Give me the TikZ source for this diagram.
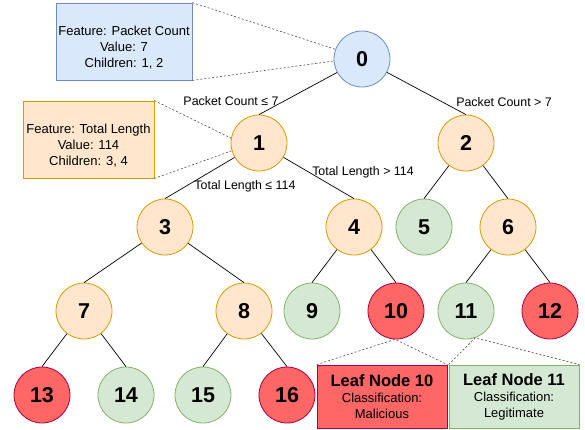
\documentclass[tikz,border=0pt]{standalone}
\usepackage{fontspec}
\setmainfont{Liberation Sans}
\usetikzlibrary{backgrounds}
\definecolor{rootfill}{HTML}{DAE8FC}
\definecolor{rootline}{HTML}{6C8EBF}
\definecolor{splitfill}{HTML}{FFE6CC}
\definecolor{splitline}{HTML}{D79B00}
\definecolor{goodfill}{HTML}{D5E8D4}
\definecolor{goodline}{HTML}{82B366}
\definecolor{badfill}{HTML}{FF6666}
\definecolor{badline}{HTML}{A50040}
\tikzset{
	tnode/.style={circle, draw, line width=0.8pt, minimum size=56pt, inner sep=0pt, font=\fontsize{21.5}{21.5}\selectfont\bfseries},
	root/.style={tnode, fill=rootfill, draw=rootline},
	split/.style={tnode, fill=splitfill, draw=splitline},
	good/.style={tnode, fill=goodfill, draw=goodline},
	bad/.style={tnode, fill=badfill, draw=badline},
	infobox/.style={rectangle, draw, line width=0.8pt, align=center, inner sep=0pt, font=\fontsize{13}{16}\selectfont},
	cond/.style={inner sep=0pt, font=\fontsize{12.4}{14}\selectfont},
	guide/.style={draw=black!70, line width=0.6pt, dash pattern=on 2pt off 2pt},
	branch/.style={draw=black, line width=0.7pt}
}
\begin{document}
\begin{tikzpicture}[x=1pt, y=-1pt]
		\useasboundingbox (0,0) rectangle (585,429);
		
		\node(n0) [root] at (362,59) {0};
		\node(n1) [split] at (259,143) {1};
		\node(n2) [split] at (466,143) {2};
		\node(n3) [split] at (165,227) {3};
		\node(n4) [split] at (354,227) {4};
		\node(n5) [good] at (424,227) {5};
		\node(n6) [split] at (508,227) {6};
		\node(n7) [split] at (84,311) {7};
		\node(n8) [split] at (244,311) {8};
		\node(n9) [good] at (312,311) {9};
		\node(n10) [bad] at (396,311) {10};
		\node(n11) [good] at (466,311) {11};
		\node(n12) [bad] at (550,311) {12};
		\node(n13) [bad] at (42,395) {13};
		\node(n14) [good] at (126,395) {14};
		\node(n15) [good] at (203,395) {15};
		\node(n16) [bad] at (287,395) {16};
		
		\foreach \a/\b in {0/1, 0/2, 1/3, 1/4, 2/5, 2/6, 3/7, 3/8, 4/9, 4/10, 6/11, 6/12, 7/13, 7/14, 8/15, 8/16}
			\draw[branch] (n\a) -- (n\b.north);
		
		\node(c01) [cond] at (231,101) {Packet Count ≤ 7};
		\node(c02) [cond] at (504,102) {Packet Count > 7};
		\node(c13) [cond] at (245,186) {Total Length ≤ 114};
		\node(c14) [cond] at (363,172) {Total Length > 114};
		
		\node(i0) [infobox, fill=rootfill, draw=rootline, minimum width=136pt, minimum height=77pt] at (124,41.5)
			{\rule{0pt}{21.5pt}Feature: Packet Count\\Value: 7\\Children: 1, 2};
		\node(i1) [infobox, fill=splitfill, draw=splitline, minimum width=131pt, minimum height=77pt] at (88.5,139.5)
			{\rule{0pt}{21.5pt}Feature: Total Length\\Value: 114\\Children: 3, 4};
		\node(l10) [infobox, fill=badfill, draw=badline, minimum width=130pt, minimum height=63pt] at (382,396.5)
			{{\fontsize{16.5}{19}\selectfont\bfseries Leaf Node 10}\\Classification:\\Malicious};
		\node(l11) [infobox, fill=goodfill, draw=goodline, minimum width=130pt, minimum height=63pt] at (514,396.5)
			{{\fontsize{16.5}{19}\selectfont\bfseries Leaf Node 11}\\Classification:\\Legitimate};
		
		% dotted call-outs
		\draw[guide] (i0.north east) -- (n0.160);
		\draw[guide] (i0.south east) -- (n0.184);
		\draw[guide] (i1.north east) -- (n1.170);
		\draw[guide] (i1.south east) -- (n1.196);
		\draw[guide] (l10.north west) -- (n10.-92) -- (l10.north east);
		\draw[guide] (l11.north west) -- (n11.-71) -- (l11.north east);
\end{tikzpicture}
\end{document}
